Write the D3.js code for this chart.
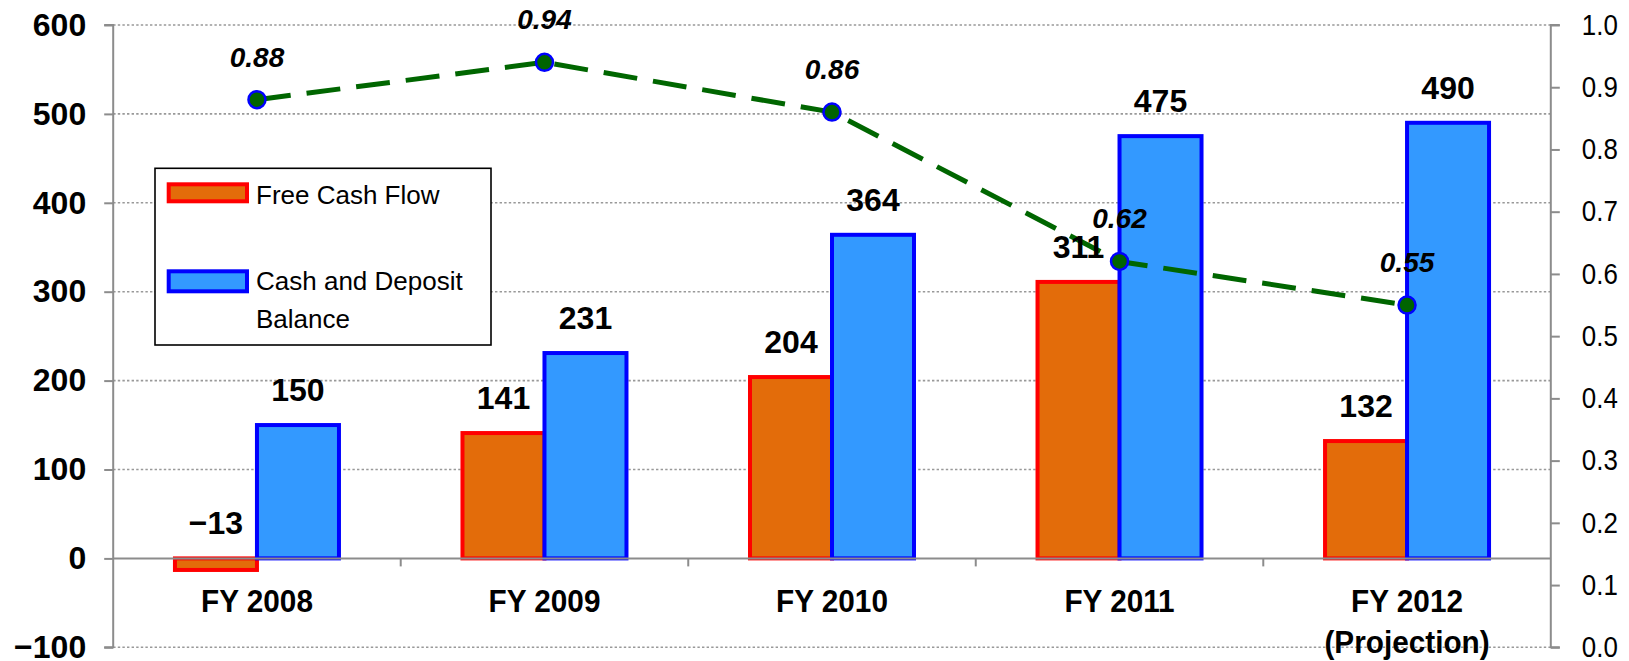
<!DOCTYPE html>
<html>
<head>
<meta charset="utf-8">
<script src="https://cdn.jsdelivr.net/npm/d3@7"></script>
<style>
  html, body { margin: 0; padding: 0; background: #fff; }
  svg { display: block; }
</style>
</head>
<body>
<svg id="chart" width="1629" height="661"></svg>
<script>
// ---- data ----
const categories = ["FY 2008", "FY 2009", "FY 2010", "FY 2011", "FY 2012"];
const categorySub = ["", "", "", "", "(Projection)"];
const freeCashFlow = [-13, 141, 204, 311, 132];
const cashDeposit = [150, 231, 364, 475, 490];
const ratio = [0.88, 0.94, 0.86, 0.62, 0.55];
const leftTicks = [-100, 0, 100, 200, 300, 400, 500, 600];
const rightTicks = [0.0, 0.1, 0.2, 0.3, 0.4, 0.5, 0.6, 0.7, 0.8, 0.9, 1.0];
const seriesNames = ["Free Cash Flow", "Cash and Deposit Balance"];

// ---- layout ----
const W = 1629, H = 661;
const plot = { left: 113.2, right: 1550.8, top: 25, bottom: 647.3 };
const barW = 82;

const svg = d3.select("#chart");

const x = d3.scaleBand().domain(categories).range([plot.left, plot.right]).paddingInner(0).paddingOuter(0);
const y = d3.scaleLinear().domain([-100, 600]).range([plot.bottom, plot.top]);
const y2 = d3.scaleLinear().domain([0, 1]).range([plot.bottom, plot.top]);

const grey = "#8c8c8c";

// gridlines (dotted) for every left tick except 0
svg.append("g").selectAll("line")
  .data(leftTicks.filter(d => d !== 0))
  .join("line")
  .attr("x1", plot.left).attr("x2", plot.right)
  .attr("y1", d => y(d)).attr("y2", d => y(d))
  .attr("stroke", "#999").attr("stroke-width", 1.6)
  .attr("stroke-dasharray", "2.4,2.2");

// left axis
const leftAxis = d3.axisLeft(y).tickValues(leftTicks).tickSize(9).tickPadding(18).tickFormat(d3.format("d"));
const gL = svg.append("g").attr("transform", `translate(${plot.left},0)`).call(leftAxis);
gL.select(".domain").attr("stroke", grey).attr("stroke-width", 2).attr("d", `M-9,${plot.top}H0V${plot.bottom}H-9`);
gL.selectAll(".tick line").attr("stroke", grey).attr("stroke-width", 2);
gL.selectAll(".tick text")
  .attr("font-family", "'Liberation Sans', Arial, sans-serif")
  .attr("font-weight", "bold").attr("font-size", 32).attr("fill", "#000");

// right axis
const rightAxis = d3.axisRight(y2).tickValues(rightTicks).tickSize(9).tickPadding(22).tickFormat(d3.format(".1f"));
const gR = svg.append("g").attr("transform", `translate(${plot.right},0)`).call(rightAxis);
gR.select(".domain").attr("stroke", grey).attr("stroke-width", 2).attr("d", `M9,${plot.top}H0V${plot.bottom}H9`);
gR.selectAll(".tick line").attr("stroke", grey).attr("stroke-width", 2);
gR.selectAll(".tick text")
  .attr("font-family", "'Liberation Sans', Arial, sans-serif")
  .attr("font-size", 29).attr("fill", "#000")
  .attr("textLength", 36).attr("lengthAdjust", "spacingAndGlyphs");

// bars
const bars = svg.append("g");
bars.selectAll("rect.fcf")
  .data(freeCashFlow)
  .join("rect").attr("class", "fcf")
  .attr("x", (d, i) => x(categories[i]) + x.bandwidth() / 2 - barW)
  .attr("width", barW)
  .attr("y", d => y(Math.max(0, d)))
  .attr("height", d => Math.abs(y(d) - y(0)))
  .attr("fill", "#E36C0A").attr("stroke", "#FF0000").attr("stroke-width", 4);

bars.selectAll("rect.cash")
  .data(cashDeposit)
  .join("rect").attr("class", "cash")
  .attr("x", (d, i) => x(categories[i]) + x.bandwidth() / 2)
  .attr("width", barW)
  .attr("y", d => y(Math.max(0, d)))
  .attr("height", d => Math.abs(y(d) - y(0)))
  .attr("fill", "#3399FF").attr("stroke", "#0000FF").attr("stroke-width", 4);

// zero line (category axis) with separator ticks
svg.append("line")
  .attr("x1", plot.left).attr("x2", plot.right)
  .attr("y1", y(0)).attr("y2", y(0))
  .attr("stroke", grey).attr("stroke-width", 2);
svg.append("g").selectAll("line")
  .data(categories.slice(1))
  .join("line")
  .attr("x1", d => x(d)).attr("x2", d => x(d))
  .attr("y1", y(0)).attr("y2", y(0) + 8)
  .attr("stroke", grey).attr("stroke-width", 2);

// category labels
const catG = svg.append("g")
  .attr("font-family", "'Liberation Sans', Arial, sans-serif")
  .attr("font-weight", "bold").attr("font-size", 32).attr("fill", "#000")
  .attr("text-anchor", "middle");
categories.forEach((c, i) => {
  const cx = x(c) + x.bandwidth() / 2;
  const t = catG.append("text").attr("transform", `translate(${cx},${y(0) + 53.4}) scale(0.93,1)`);
  t.append("tspan").attr("x", 0).attr("y", 0).text(c);
  if (categorySub[i]) t.append("tspan").attr("x", 0).attr("y", 41).text(categorySub[i]);
});

// line series on right axis
const pts = ratio.map((v, i) => [x(categories[i]) + x.bandwidth() / 2, y2(v)]);
svg.append("path")
  .attr("d", d3.line()(pts))
  .attr("fill", "none").attr("stroke", "#006600").attr("stroke-width", 5)
  .attr("stroke-dasharray", "34,16");
svg.append("g").selectAll("circle")
  .data(ratio)
  .join("circle")
  .attr("cx", (d, i) => x(categories[i]) + x.bandwidth() / 2)
  .attr("cy", d => y2(d))
  .attr("r", 8.5)
  .attr("fill", "#006400").attr("stroke", "#0000FF").attr("stroke-width", 2.5);

// bar value labels
const valG = svg.append("g")
  .attr("font-family", "'Liberation Sans', Arial, sans-serif")
  .attr("font-weight", "bold").attr("font-size", 32).attr("fill", "#000")
  .attr("text-anchor", "middle");
const fmt = d3.format("d");
valG.selectAll("text.fcf").data(freeCashFlow).join("text").attr("class", "fcf")
  .attr("x", (d, i) => x(categories[i]) + x.bandwidth() / 2 - barW / 2)
  .attr("y", d => y(Math.max(0, d)) - 24)
  .text(d => fmt(d));
valG.selectAll("text.cash").data(cashDeposit).join("text").attr("class", "cash")
  .attr("x", (d, i) => x(categories[i]) + x.bandwidth() / 2 + barW / 2)
  .attr("y", d => y(Math.max(0, d)) - 24)
  .text(d => fmt(d));

// ratio labels
svg.append("g")
  .attr("font-family", "'Liberation Sans', Arial, sans-serif")
  .attr("font-weight", "bold").attr("font-style", "italic").attr("font-size", 28).attr("fill", "#000")
  .attr("text-anchor", "middle")
  .selectAll("text").data(ratio).join("text")
  .attr("x", (d, i) => x(categories[i]) + x.bandwidth() / 2)
  .attr("y", d => y2(d) - 33)
  .text(d => d3.format(".2f")(d));

// legend
const lg = svg.append("g").attr("font-family", "'Liberation Sans', Arial, sans-serif").attr("font-size", 26).attr("fill", "#000");
lg.append("rect").attr("x", 155).attr("y", 168.3).attr("width", 336).attr("height", 176.7)
  .attr("fill", "#fff").attr("stroke", "#000").attr("stroke-width", 1.6);
lg.append("rect").attr("x", 168.7).attr("y", 184.3).attr("width", 78.3).attr("height", 17)
  .attr("fill", "#E36C0A").attr("stroke", "#FF0000").attr("stroke-width", 4);
lg.append("rect").attr("x", 168.7).attr("y", 271.3).attr("width", 78.3).attr("height", 20)
  .attr("fill", "#3399FF").attr("stroke", "#0000FF").attr("stroke-width", 4);
lg.append("text").attr("x", 256).attr("y", 204).text(seriesNames[0]);
const t2 = lg.append("text").attr("x", 256).attr("y", 290);
t2.append("tspan").attr("x", 256).attr("y", 290).text("Cash and Deposit");
t2.append("tspan").attr("x", 256).attr("y", 328.3).text("Balance");
</script>
</body>
</html>
